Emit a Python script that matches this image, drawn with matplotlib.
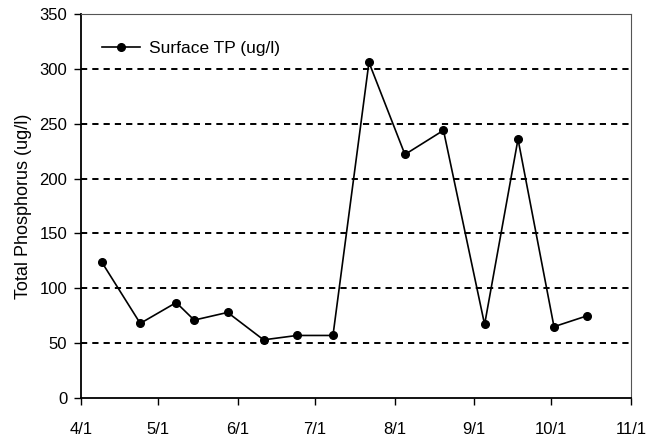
import matplotlib
matplotlib.use("Agg")
import matplotlib.pyplot as plt
import matplotlib.dates as mdates
from datetime import date

# sampling dates and surface total phosphorus readings
sample_dates = ["2003-04-09", "2003-04-24", "2003-05-08", "2003-05-15", "2003-05-28",
                "2003-06-11", "2003-06-24", "2003-07-08", "2003-07-22", "2003-08-05",
                "2003-08-20", "2003-09-05", "2003-09-18", "2003-10-02", "2003-10-15"]
tp_values = [124, 68, 87, 71, 78, 53, 57, 57, 306, 222, 244, 67, 236, 65, 75]

month_ticks = ["2003-04-01", "2003-05-01", "2003-06-01", "2003-07-01",
               "2003-08-01", "2003-09-01", "2003-10-01", "2003-11-01"]
month_labels = ["4/1", "5/1", "6/1", "7/1", "8/1", "9/1", "10/1", "11/1"]
y_ticks = [0, 50, 100, 150, 200, 250, 300, 350]

plt.rcParams['font.family'] = ['Liberation Sans', 'DejaVu Sans']

x = [date.fromisoformat(d) for d in sample_dates]
xt = [mdates.date2num(date.fromisoformat(d)) for d in month_ticks]

fig = plt.figure(figsize=(6.65, 4.4), dpi=100)
ax = fig.add_axes([0.122, 0.0955, 0.827, 0.8725])

for v in y_ticks[1:-1]:
    ax.axhline(v, color='black', lw=1.4, ls=(0, (3.2, 2.6)), zorder=1)

ax.plot(x, tp_values, color='black', lw=1.2, marker='o', markersize=5.5,
        label='Surface TP (ug/l)', zorder=3)

ax.set_xlim(xt[0], xt[-1])
ax.set_ylim(0, 350)
ax.set_xticks(xt)
ax.set_xticklabels(month_labels)
ax.set_yticks(y_ticks)
ax.tick_params(direction='out', length=5, width=1, labelsize=12, colors='black')
ax.tick_params(axis='x', pad=12)
ax.tick_params(axis='y', pad=5)

ax.spines['left'].set_linewidth(1.3)
ax.spines['bottom'].set_linewidth(1.3)
ax.spines['top'].set_color('#555555')
ax.spines['right'].set_color('#555555')

ax.set_ylabel('Total Phosphorus (ug/l)', fontsize=13, labelpad=5)

ax.legend(loc='upper left', frameon=False, fontsize=12.5, handlelength=2.2,
          handletextpad=0.5, bbox_to_anchor=(0.01, 0.97))

fig.savefig('out.png', dpi=100)
